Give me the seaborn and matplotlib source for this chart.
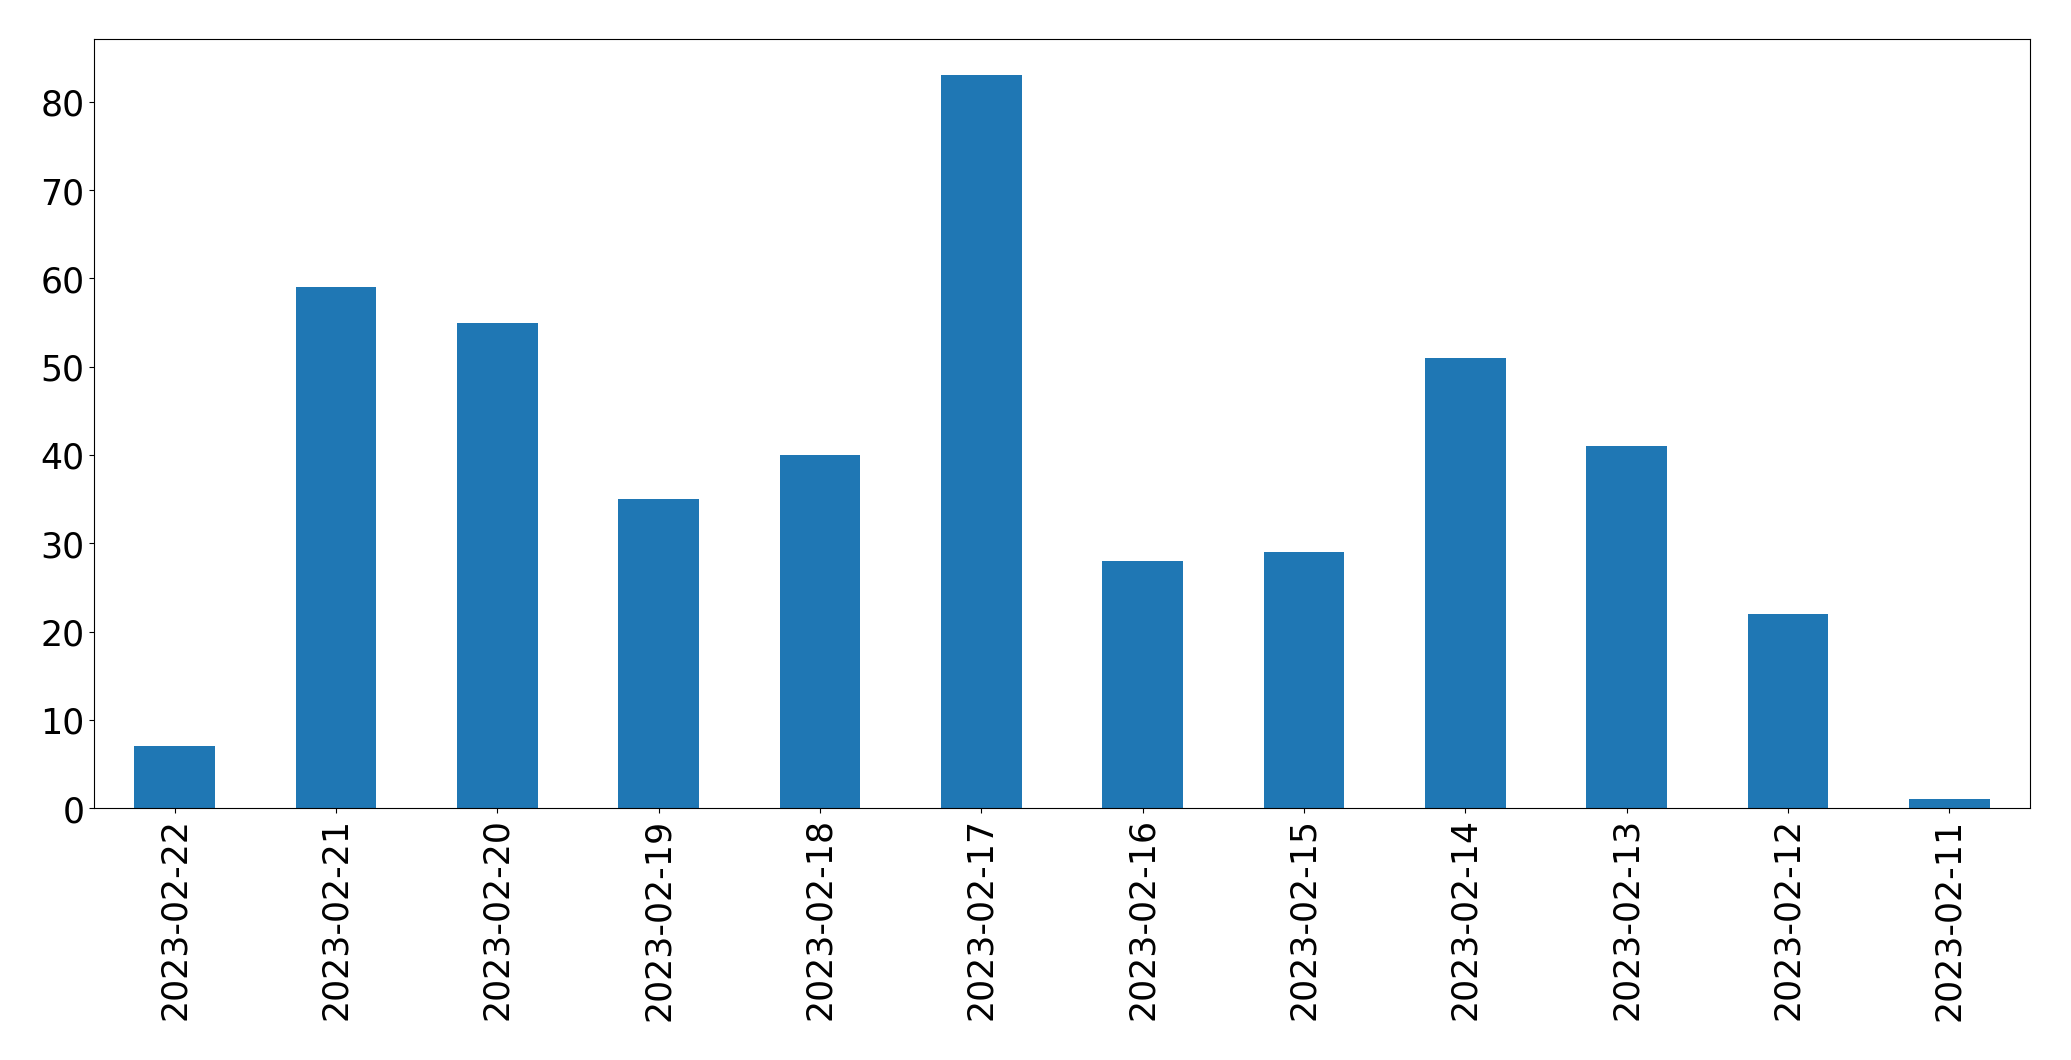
import matplotlib
matplotlib.use("Agg")
import matplotlib.pyplot as plt
import seaborn as sns
import pandas as pd

dates = ["2023-02-22", "2023-02-21", "2023-02-20", "2023-02-19", "2023-02-18", "2023-02-17",
         "2023-02-16", "2023-02-15", "2023-02-14", "2023-02-13", "2023-02-12", "2023-02-11"]
counts = [7, 59, 55, 35, 40, 83, 28, 29, 51, 41, 22, 1]

df = pd.DataFrame({"date": dates, "count": counts})

fig = plt.figure(figsize=(20.71, 10.605), dpi=100)
ax = fig.add_axes([0.0454, 0.2375, 0.9348, 0.7255])
sns.barplot(data=df, x="date", y="count", color="#1f77b4", saturation=1, width=0.5,
            linewidth=0, ax=ax)
ax.set_xlim(-0.5, len(dates) - 0.5)
ax.set_ylim(0, max(counts) * 1.05)
ax.set_xlabel("")
ax.set_ylabel("")
ax.tick_params(axis="both", labelsize=25)
plt.setp(ax.get_xticklabels(), rotation=90)
fig.savefig("out.png", dpi=100)
